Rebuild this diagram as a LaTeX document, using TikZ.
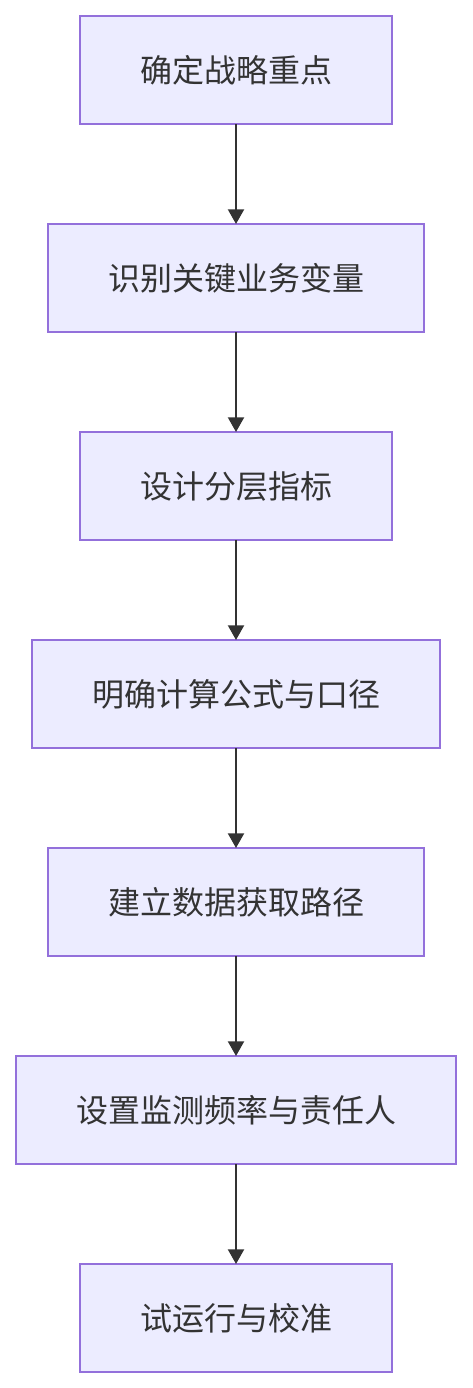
\documentclass[tikz,border=0pt]{standalone}
\usepackage{fontspec}
\setmainfont{Noto Sans CJK SC}
\usetikzlibrary{arrows.meta,positioning}
\definecolor{boxfill}{HTML}{ECECFF}
\definecolor{boxline}{HTML}{9370DB}
\definecolor{ink}{HTML}{333333}

\tikzset{
  stepbox/.style={draw=boxline,fill=boxfill,line width=1.5pt,minimum height=81pt,
    inner sep=0pt,outer sep=0pt,text=ink,font=\fontsize{24pt}{28pt}\selectfont},
  flow/.style={-{Triangle[length=11pt,width=12pt]},line width=1.5pt,draw=ink}
}

\begin{document}
\begin{tikzpicture}
        \useasboundingbox (0,0) rectangle (354pt,-1041pt);
        \node[stepbox,minimum width=234pt] (focus) at (177pt,-52.5pt) {确定战略重点};
        \node[stepbox,minimum width=282pt,below=75pt of focus] (vars) {识别关键业务变量};
        \node[stepbox,minimum width=234pt,below=75pt of vars] (layer) {设计分层指标};
        \node[stepbox,minimum width=306pt,below=75pt of layer] (formula) {明确计算公式与口径};
        \node[stepbox,minimum width=282pt,below=75pt of formula] (data) {建立数据获取路径};
        \node[stepbox,minimum width=330pt,below=75pt of data] (monitor) {设置监测频率与责任人};
        \node[stepbox,minimum width=234pt,below=75pt of monitor] (trial) {试运行与校准};
        \foreach \a/\b in {focus/vars,vars/layer,layer/formula,formula/data,data/monitor,monitor/trial}
          \draw[flow] (\a) -- (\b);
      \end{tikzpicture}
\end{document}
